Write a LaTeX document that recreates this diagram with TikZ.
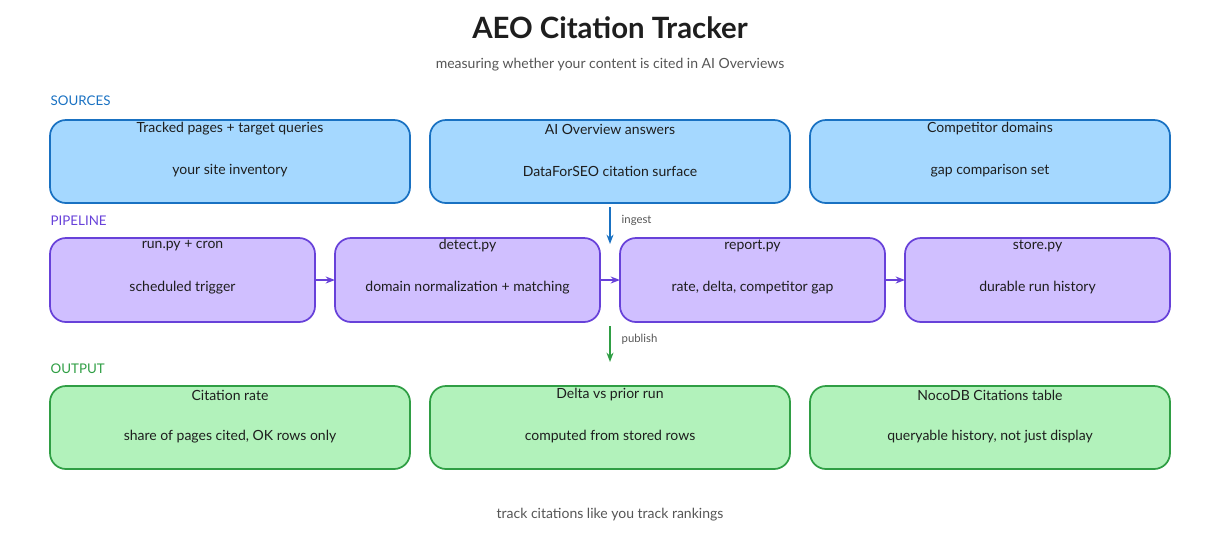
\documentclass[tikz,border=0pt]{standalone}
\usepackage{fontspec}
\setmainfont{Lato}
\usetikzlibrary{arrows.meta}
\definecolor{sbf}{HTML}{A5D8FF}\definecolor{sbd}{HTML}{1971C2}
\definecolor{pbf}{HTML}{D0BFFF}\definecolor{pbd}{HTML}{6741D9}
\definecolor{obf}{HTML}{B2F2BB}\definecolor{obd}{HTML}{2F9E44}
\definecolor{txt}{HTML}{1E1E1E}\definecolor{sub}{HTML}{555555}
\begin{document}
\begin{tikzpicture}[x=0.75pt,y=-0.75pt,
 mybox/.style={draw,line width=1.3pt,rounded corners=12pt},
 srcbox/.style={mybox,fill=sbf,draw=sbd},
 pipbox/.style={mybox,fill=pbf,draw=pbd},
 outbox/.style={mybox,fill=obf,draw=obd},
 btxt/.style={font=\fontsize{10.5}{12}\selectfont,text=txt},
 seclab/.style={font=\fontsize{10}{12}\selectfont,anchor=west},
 myarr/.style={-{Stealth[length=7pt]},line width=1.3pt}]
\useasboundingbox (0,0) rectangle (1220,540);
\node[font=\fontsize{22}{26}\selectfont\bfseries,text=txt] (title) at (610,28) {AEO Citation Tracker};
\node[font=\fontsize{10.5}{12}\selectfont,text=sub] (subt) at (610,65) {measuring whether your content is cited in AI Overviews};
\node[seclab,text=sbd] (ls) at (46,101) {SOURCES};
\node[seclab,text=pbd] (lp) at (46,221) {PIPELINE};
\node[seclab,text=obd] (lo) at (46,369) {OUTPUT};
\foreach \n/\a/\b/\ti/\su in {s1/50/410/Tracked pages + target queries/your site inventory,
 s2/430/790/AI Overview answers/DataForSEO citation surface,
 s3/810/1170/Competitor domains/gap comparison set}{
 \draw[srcbox] (\a,120) rectangle (\b,203);
 \node[btxt] (\n t) at ({(\a+\b)/2},129) {\ti};
 \node[btxt] (\n s) at ({(\a+\b)/2},171) {\su};}
\foreach \n/\a/\b/\ti/\su in {p1/50/315/run.py + cron/scheduled trigger,
 p2/335/600/detect.py/domain normalization + matching,
 p3/620/885/report.py/{rate, delta, competitor gap},
 p4/905/1170/store.py/durable run history}{
 \draw[pipbox] (\a,238) rectangle (\b,322);
 \coordinate (\n w) at (\a,280); \coordinate (\n e) at (\b,280);
 \node[btxt] (\n t) at ({(\a+\b)/2},246) {\ti};
 \node[btxt] (\n s) at ({(\a+\b)/2},288) {\su};}
\foreach \n/\a/\b/\ti/\su in {o1/50/410/Citation rate/{share of pages cited, OK rows only},
 o2/430/790/Delta vs prior run/computed from stored rows,
 o3/810/1170/NocoDB Citations table/{queryable history, not just display}}{
 \draw[outbox] (\a,386) rectangle (\b,469);
 \node[btxt] (\n t) at ({(\a+\b)/2},395) {\ti};
 \node[btxt] (\n s) at ({(\a+\b)/2},437) {\su};}
\draw[myarr,draw=pbd] (p1e) -- (p2w);
\draw[myarr,draw=pbd] (p2e) -- (p3w);
\draw[myarr,draw=pbd] (p3e) -- (p4w);
\coordinate (i1) at (610,207); \coordinate (i2) at (610,244);
\coordinate (u1) at (610,326); \coordinate (u2) at (610,362);
\draw[myarr,draw=sbd] (i1) -- (i2);
\draw[myarr,draw=obd] (u1) -- (u2);
\node[font=\fontsize{8.5}{10}\selectfont,text=sub,anchor=west] (ing) at (617,220) {ingest};
\node[font=\fontsize{8.5}{10}\selectfont,text=sub,anchor=west] (pub) at (617,339) {publish};
\node[font=\fontsize{10.5}{12}\selectfont,text=sub] (foot) at (610,515) {track citations like you track rankings};
\end{tikzpicture}
\end{document}
